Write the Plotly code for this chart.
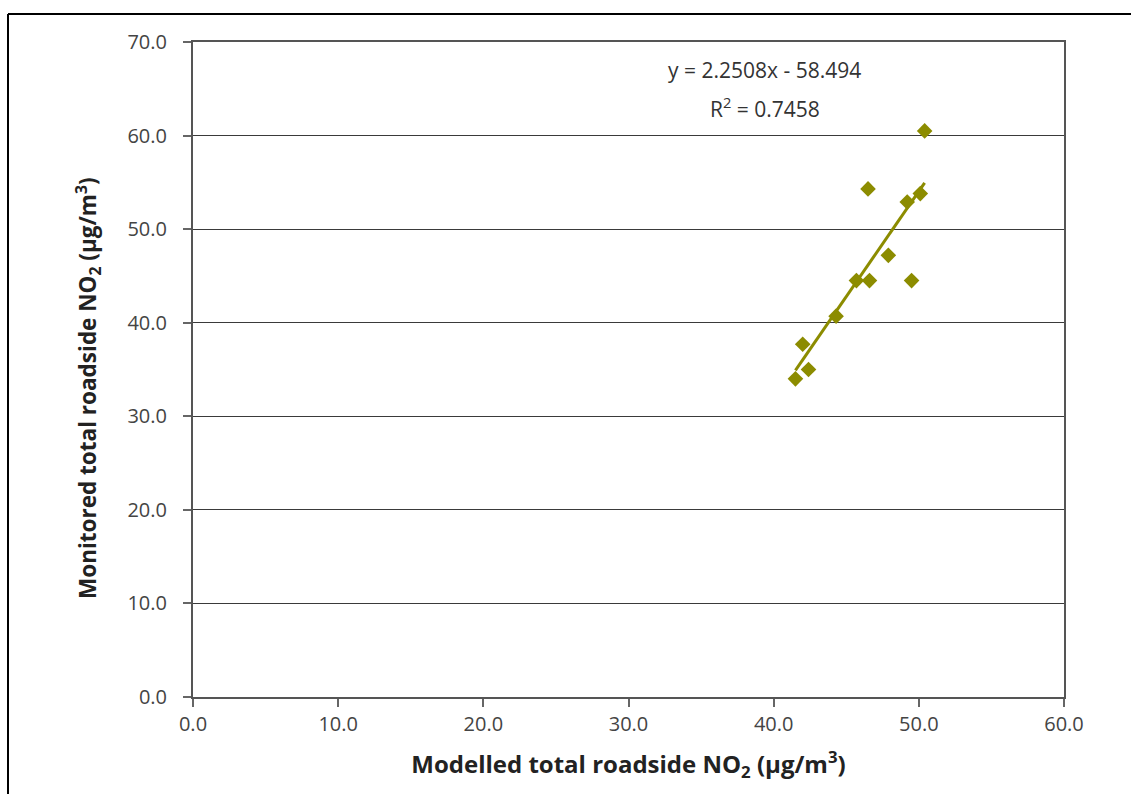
import plotly.graph_objects as go

# Modelled vs monitored roadside NO2 (µg/m3)
modelled = [41.5, 42.0, 42.4, 44.3, 45.7, 46.6, 46.5, 47.9, 49.5, 49.2, 50.1, 50.4]
monitored = [34.0, 37.7, 35.0, 40.7, 44.5, 44.5, 54.3, 47.2, 44.5, 52.9, 53.8, 60.5]

slope = 2.2508
intercept = -58.494
r_squared = 0.7458

x_ticks = [0, 10, 20, 30, 40, 50, 60]
y_ticks = [0, 10, 20, 30, 40, 50, 60, 70]

W, H = 1131, 794
ML, MR, MT, MB = 193, 67, 42, 97
PW, PH = W - ML - MR, H - MT - MB

olive = "#8c8c00"
font_family = "Open Sans, Noto Sans, DejaVu Sans, sans-serif"

x_fit = [min(modelled), max(modelled)]
y_fit = [slope * v + intercept for v in x_fit]

fig = go.Figure()
fig.add_trace(go.Scatter(
    x=x_fit, y=y_fit, mode="lines",
    line=dict(color=olive, width=3), hoverinfo="skip", showlegend=False,
))
fig.add_trace(go.Scatter(
    x=modelled, y=monitored, mode="markers",
    marker=dict(symbol="diamond", size=12, color=olive, line=dict(width=0)),
    showlegend=False,
))

eq_font = dict(family=font_family, size=21, color="#333333")
fig.add_annotation(
    x=39.4, y=67.0, xref="x", yref="y", showarrow=False,
    text=f"y = {slope}x - {abs(intercept)}", font=eq_font,
)
fig.add_annotation(
    x=39.4, y=63.0, xref="x", yref="y", showarrow=False,
    text=f"R<sup>2</sup> = {r_squared}", font=eq_font,
)


def px_to_paper_x(px):
    return (px - ML) / PW


def px_to_paper_y(py):
    return (H - MB - py) / PH


# outer frame: top and left edges of the page box
fig.add_shape(type="line", xref="paper", yref="paper",
              x0=px_to_paper_x(8), x1=px_to_paper_x(1131),
              y0=px_to_paper_y(14), y1=px_to_paper_y(14),
              line=dict(color="black", width=2))
fig.add_shape(type="line", xref="paper", yref="paper",
              x0=px_to_paper_x(8), x1=px_to_paper_x(8),
              y0=px_to_paper_y(14), y1=px_to_paper_y(794),
              line=dict(color="black", width=2))

axis_font = dict(family=font_family, size=20, color="#444444")
title_font = dict(family=font_family, size=24, color="#222222")

# vertical axis title
fig.add_annotation(
    x=px_to_paper_x(88), y=px_to_paper_y(388), xref="paper", yref="paper",
    showarrow=False, textangle=-90, xanchor="center", yanchor="middle",
    text="<b>Monitored total roadside NO<sub>2</sub> (μg/m<sup>3</sup>)</b>",
    font=dict(family=font_family, size=22.5, color="#222222"),
)

fig.update_xaxes(
    range=[0, 60], tickvals=x_ticks, tickformat=".1f",
    showgrid=False, zeroline=False,
    showline=True, linecolor="#555555", linewidth=2, mirror=True,
    ticks="outside", ticklen=8, tickcolor="#666666", tickwidth=2,
    tickfont=axis_font, ticklabelstandoff=0,
    title=dict(text="<b>Modelled total roadside NO<sub>2</sub> (μg/m<sup>3</sup>)</b>",
               font=title_font, standoff=20),
)
fig.update_yaxes(
    range=[0, 70], tickvals=y_ticks, tickformat=".1f",
    showgrid=True, gridcolor="#3a3a3a", gridwidth=1, zeroline=False,
    showline=True, linecolor="#555555", linewidth=2, mirror=True,
    ticks="outside", ticklen=8, tickcolor="#666666", tickwidth=2,
    tickfont=axis_font, ticklabelstandoff=12,
)

fig.update_layout(
    width=W, height=H,
    margin=dict(l=ML, r=MR, t=MT, b=MB, pad=0),
    paper_bgcolor="white", plot_bgcolor="white",
    font=dict(family=font_family),
)

fig.write_html("out.html")
